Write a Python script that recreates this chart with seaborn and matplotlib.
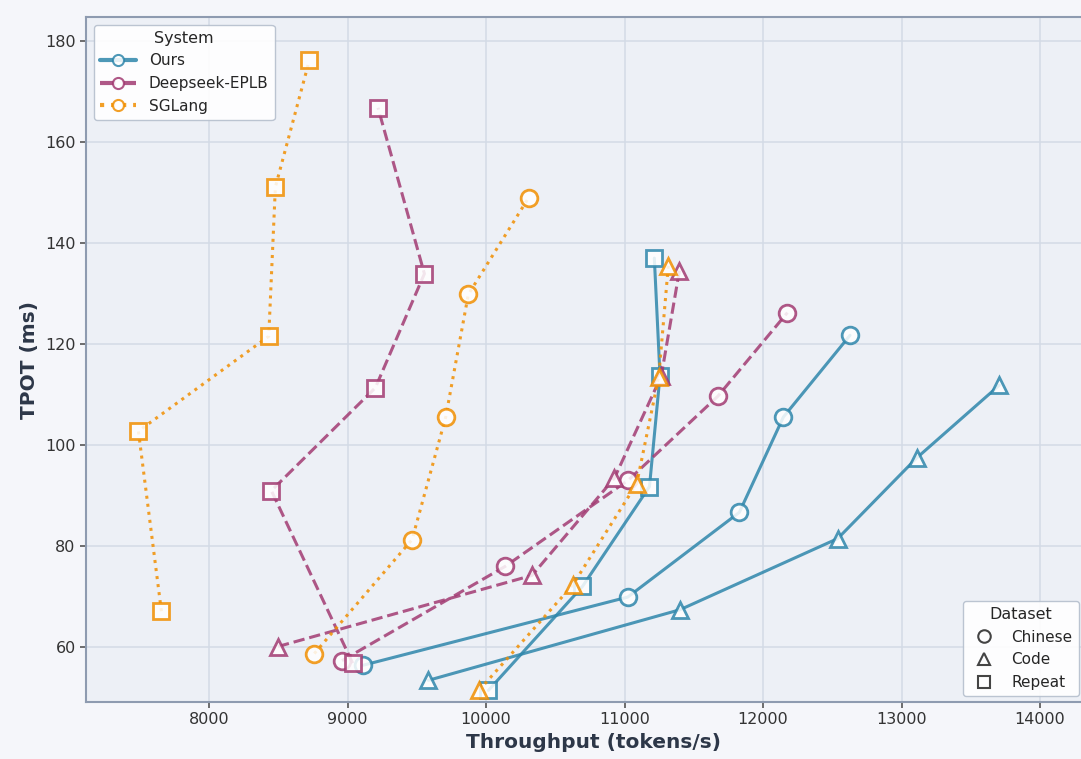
import matplotlib
matplotlib.use('Agg')
import matplotlib.pyplot as plt
from matplotlib.lines import Line2D
import seaborn as sns

sns.set_style("whitegrid")
plt.rcParams.update({'font.size': 12, 'font.family': ['DejaVu Sans']})

SYSTEMS = ['Ours', 'Deepseek-EPLB', 'SGLang']
DATASETS = ['Chinese', 'Code', 'Repeat']
COLORS = {'Ours': '#2E86AB', 'Deepseek-EPLB': '#A23B72', 'SGLang': '#F18F01'}
LINESTYLES = {'Ours': '-', 'Deepseek-EPLB': '--', 'SGLang': ':'}
MARKERS = {'Chinese': 'o', 'Code': '^', 'Repeat': 's'}

# throughput (tokens/s) and TPOT (ms), one list pair per system/dataset
ours_chinese_tp = [9114, 11023, 11829, 12147, 12628]
ours_chinese_tpot = [56.3, 69.8, 86.6, 105.5, 121.7]
ours_code_tp = [9584, 11401, 12539, 13110, 13706]
ours_code_tpot = [53.3, 67.3, 81.4, 97.4, 111.8]
ours_repeat_tp = [10017, 10696, 11180, 11256, 11215]
ours_repeat_tpot = [51.3, 71.9, 91.7, 113.7, 137.0]

eplb_chinese_tp = [8960, 10139, 11028, 11673, 12176]
eplb_chinese_tpot = [57.2, 75.9, 93.0, 109.6, 126.2]
eplb_code_tp = [8498, 10332, 10927, 11265, 11396]
eplb_code_tpot = [60.0, 74.1, 93.4, 113.6, 134.5]
eplb_repeat_tp = [9037, 8450, 9201, 9555, 9220]
eplb_repeat_tpot = [56.7, 90.9, 111.3, 133.9, 166.8]

sgl_chinese_tp = [8760, 9466, 9709, 9872, 10308]
sgl_chinese_tpot = [58.6, 81.2, 105.5, 129.8, 149.0]
sgl_code_tp = [9952, 10626, 11088, 11247, 11316]
sgl_code_tpot = [51.4, 72.2, 92.3, 113.5, 135.5]
sgl_repeat_tp = [7656, 7490, 8431, 8479, 8724]
sgl_repeat_tpot = [67.0, 102.7, 121.5, 151.1, 176.2]

SERIES = {
    ('Ours', 'Chinese'): (ours_chinese_tp, ours_chinese_tpot),
    ('Ours', 'Code'): (ours_code_tp, ours_code_tpot),
    ('Ours', 'Repeat'): (ours_repeat_tp, ours_repeat_tpot),
    ('Deepseek-EPLB', 'Chinese'): (eplb_chinese_tp, eplb_chinese_tpot),
    ('Deepseek-EPLB', 'Code'): (eplb_code_tp, eplb_code_tpot),
    ('Deepseek-EPLB', 'Repeat'): (eplb_repeat_tp, eplb_repeat_tpot),
    ('SGLang', 'Chinese'): (sgl_chinese_tp, sgl_chinese_tpot),
    ('SGLang', 'Code'): (sgl_code_tp, sgl_code_tpot),
    ('SGLang', 'Repeat'): (sgl_repeat_tp, sgl_repeat_tpot),
}

fig = plt.figure(figsize=(10.81, 7.59), dpi=100, facecolor='#f5f6fa')
ax = fig.add_axes([0.0796, 0.0751, 0.938, 0.9025])
ax.set_facecolor('#edf0f6')

for (system, dataset), (tp, tpot) in SERIES.items():
    sns.lineplot(x=tp, y=tpot, sort=False, ax=ax, color=COLORS[system],
                 linestyle=LINESTYLES[system], linewidth=2.2, alpha=0.85,
                 marker=MARKERS[dataset], markersize=12,
                 markerfacecolor='white', markeredgecolor=COLORS[system],
                 markeredgewidth=2, legend=False)

ax.set_xlim(7112, 14433)
ax.set_ylim(49.0, 184.8)
ax.set_xticks(range(8000, 14001, 1000))
ax.set_yticks(range(60, 181, 20))
ax.grid(True, color='#d3dae6', linewidth=1.1)
for s in ax.spines.values():
    s.set_color('#8e9bb0')
    s.set_linewidth(1.5)
ax.tick_params(axis='both', which='major', labelsize=11.5, labelcolor='#333333',
               length=4, width=1.2, color='#555555', left=True, bottom=True)
ax.set_xlabel('Throughput (tokens/s)', fontsize=14.5, fontweight='bold', color='#2d3748')
ax.set_ylabel('TPOT (ms)', fontsize=14.5, fontweight='bold', color='#2d3748')

sys_handles = [Line2D([], [], color=COLORS[s], linestyle=LINESTYLES[s], linewidth=3,
                      marker='o', markersize=8, markerfacecolor='white',
                      markeredgecolor=COLORS[s], markeredgewidth=1.5, alpha=0.85)
               for s in SYSTEMS]
leg1 = ax.legend(sys_handles, SYSTEMS, title='System', loc='upper left',
                 fontsize=11, title_fontsize=11.5, handlelength=2.4,
                 frameon=True, fancybox=True, facecolor='white', framealpha=0.9,
                 edgecolor='#b5bfcd')
ax.add_artist(leg1)

ds_handles = [Line2D([], [], color='#444444', linestyle='none', marker=MARKERS[d],
                     markersize=9, markerfacecolor='none', markeredgewidth=1.5)
              for d in DATASETS]
ax.legend(ds_handles, DATASETS, title='Dataset', loc='lower right',
          bbox_to_anchor=(0.998, 0.083), bbox_transform=fig.transFigure,
          borderaxespad=0, fontsize=11, title_fontsize=11.5, frameon=True,
          fancybox=True, facecolor='white', framealpha=0.9, edgecolor='#b5bfcd')

plt.savefig('out.png', dpi=100, facecolor=fig.get_facecolor())
plt.close()
